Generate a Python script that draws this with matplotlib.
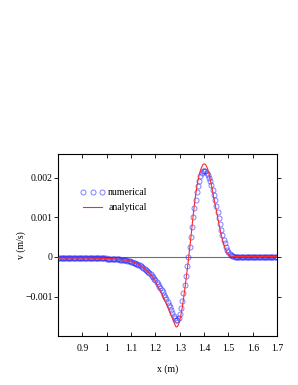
import numpy as np
import matplotlib
matplotlib.use("Agg")
import matplotlib.pyplot as plt

plt.rcParams['font.family'] = ['Liberation Serif', 'DejaVu Serif']

# x positions (m), 0.005 m apart
x = np.round(np.arange(0.80, 1.7025, 0.005), 3)

# velocities, in units of 1e-4 m/s
ana_left = [-0.25, -0.25, -0.25, -0.25, -0.25, -0.25, -0.26, -0.26, -0.26, -0.26,
            -0.26, -0.26, -0.27, -0.27, -0.27, -0.27, -0.27, -0.27, -0.28, -0.28,
            -0.28, -0.28, -0.29, -0.29, -0.29, -0.29, -0.30, -0.30, -0.31, -0.31,
            -0.32, -0.32, -0.33, -0.33, -0.34, -0.35, -0.36, -0.37, -0.38, -0.39]
ana_mid = [-0.40, -0.42, -0.43, -0.45, -0.46, -0.48, -0.50, -0.52, -0.55, -0.58,
           -0.61, -0.65, -0.69, -0.73, -0.77, -0.81, -0.85, -0.89, -0.95, -1.02,
           -1.10, -1.20, -1.31, -1.43, -1.56, -1.70, -1.85, -2.05, -2.25, -2.48,
           -2.72, -2.95, -3.2, -3.5, -3.8, -4.1, -4.4, -4.7, -5.2, -5.7,
           -6.2, -6.8, -7.4, -8.0, -8.6, -9.2, -9.9, -10.5, -11.2, -11.9,
           -12.6, -13.3, -14.0, -14.8, -15.6, -16.4, -17.1, -17.7, -17.6, -17.0,
           -16.0, -14.6, -12.8, -10.7, -8.4, -6.0, -3.5, -0.9, 1.8, 4.6,
           7.6, 10.5, 13.2, 15.6, 17.7, 19.4, 20.8, 21.9, 22.7, 23.3,
           23.5, 23.4, 22.9, 22.1, 21.0, 19.6, 18.1, 16.5, 14.9, 13.3,
           11.7, 10.1, 8.6, 7.1, 5.7, 4.4, 3.3, 2.4, 1.6, 1.0,
           0.6, 0.3, 0.15, 0.1, 0.1, 0.1, 0.1, 0.1, 0.1, 0.1]
ana_right = [0.1] * 31

num_left = [-0.25, -0.25, -0.25, -0.25, -0.25, -0.25, -0.26, -0.26, -0.26, -0.26,
            -0.26, -0.26, -0.27, -0.27, -0.27, -0.27, -0.27, -0.27, -0.28, -0.28,
            -0.28, -0.28, -0.29, -0.29, -0.29, -0.29, -0.30, -0.30, -0.31, -0.31,
            -0.32, -0.32, -0.33, -0.33, -0.34, -0.35, -0.36, -0.37, -0.38, -0.39]
num_mid = [-0.40, -0.42, -0.44, -0.46, -0.48, -0.50, -0.52, -0.55, -0.58, -0.61,
           -0.64, -0.68, -0.72, -0.76, -0.80, -0.85, -0.90, -0.96, -1.03, -1.11,
           -1.20, -1.30, -1.41, -1.53, -1.66, -1.80, -1.96, -2.14, -2.33, -2.54,
           -2.76, -3.0, -3.25, -3.52, -3.8, -4.1, -4.42, -4.76, -5.12, -5.5,
           -5.9, -6.35, -6.8, -7.3, -7.8, -8.35, -8.9, -9.5, -10.1, -10.75,
           -11.4, -12.05, -12.7, -13.4, -14.1, -14.8, -15.5, -16.0, -16.0, -15.4,
           -14.3, -12.9, -11.2, -9.2, -7.0, -4.7, -2.3, 0.1, 2.6, 5.1,
           7.6, 10.0, 12.3, 14.4, 16.3, 17.9, 19.3, 20.4, 21.2, 21.6,
           21.7, 21.6, 21.2, 20.6, 20.0, 19.1, 18.1, 17.0, 15.7, 14.3,
           12.8, 11.3, 9.8, 8.3, 6.9, 5.6, 4.4, 3.4, 2.5, 1.8,
           1.2, 0.8, 0.5, 0.3, 0.2, 0.1, 0.1, 0.1, 0.1, 0.1]
num_right = [0.1] * 31

v_ana = np.array(ana_left + ana_mid + ana_right) * 1e-4
v_num = np.array(num_left + num_mid + num_right) * 1e-4

fig = plt.figure(figsize=(2.98, 3.85), dpi=100)
ax = fig.add_axes([0.195, 0.127, 0.735, 0.473])

ax.axhline(0, color='#707070', lw=0.8, zorder=1)
ax.plot(x, v_num, 'o', ls='none', ms=3.6, mfc='none', mec='#2a2aff',
        mew=0.7, alpha=0.6, label='numerical', zorder=2)
ax.plot(x, v_ana, '-', color='#ff2a2a', lw=0.8, label='analytical', zorder=3)

ax.set_xlim(0.8, 1.7)
ax.set_ylim(-0.002, 0.0026)
ax.set_xticks([0.9, 1.0, 1.1, 1.2, 1.3, 1.4, 1.5, 1.6, 1.7])
ax.set_xticklabels(['0.9', '1', '1.1', '1.2', '1.3', '1.4', '1.5', '1.6', '1.7'])
ax.set_yticks([-0.001, 0, 0.001, 0.002])
ax.set_yticklabels(['\u22120.001', '0', '0.001', '0.002'])

ax.tick_params(axis='x', direction='in', top=True, labelsize=7, length=3, width=0.6, pad=6)
ax.tick_params(axis='y', direction='out', right=True, labelsize=7, length=3, width=0.6, pad=1)
for sp in ax.spines.values():
    sp.set_linewidth(0.8)

ax.set_xlabel('x (m)', fontsize=7)
ax.set_ylabel('v (m/s)', fontsize=7)
ax.xaxis.set_label_coords(0.5, -0.155)
ax.yaxis.set_label_coords(-0.145, 0.5)

ax.legend(loc='upper left', bbox_to_anchor=(0.06, 0.86), frameon=False,
          numpoints=3, fontsize=7, handlelength=2.6, handletextpad=0.3,
          labelspacing=0.6)

fig.savefig('out.png', dpi=100)
